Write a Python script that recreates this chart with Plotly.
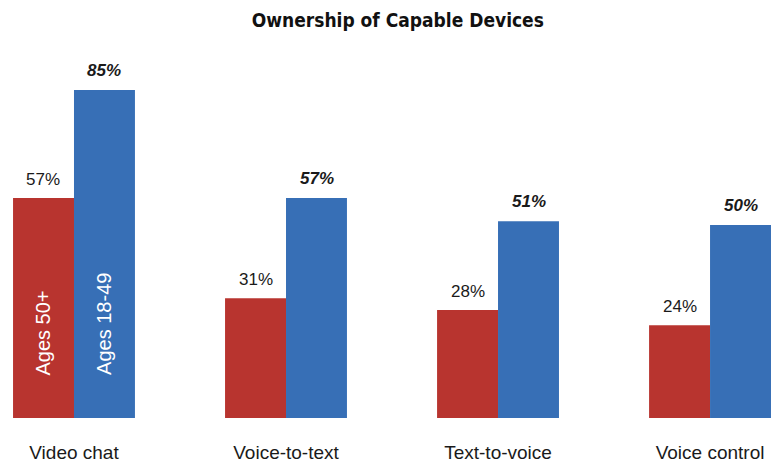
import plotly.graph_objects as go

categories = ["Video chat", "Voice-to-text", "Text-to-voice", "Voice control"]
older_name = "Ages 50+"
younger_name = "Ages 18-49"
older_values = [57, 31, 28, 24]
younger_values = [85, 57, 51, 50]

RED = "#b8342f"
BLUE = "#376fb6"
FONT = "Liberation Sans, Arial, sans-serif"

fig = go.Figure()
fig.add_trace(go.Bar(x=categories, y=older_values, name=older_name,
                     marker=dict(color=RED, line=dict(width=0))))
fig.add_trace(go.Bar(x=categories, y=younger_values, name=younger_name,
                     marker=dict(color=BLUE, line=dict(width=0))))

half = 30.5
annotations = []
for cat, ov, yv in zip(categories, older_values, younger_values):
    annotations.append(dict(x=cat, y=ov, xref="x", yref="y", xshift=-half, yshift=7,
                            yanchor="bottom", showarrow=False, text=f"{ov}%",
                            font=dict(family=FONT, size=17, color="#1a1a1a")))
    annotations.append(dict(x=cat, y=yv, xref="x", yref="y", xshift=half, yshift=8,
                            yanchor="bottom", showarrow=False, text=f"<b><i>{yv}%</i></b>",
                            font=dict(family=FONT, size=17, color="#1a1a1a")))

# series names written vertically inside the first pair of bars
annotations.append(dict(x=categories[0], y=22, xref="x", yref="y", xshift=-half,
                        showarrow=False, textangle=-90, text=older_name,
                        font=dict(family=FONT, size=20, color="white")))
annotations.append(dict(x=categories[0], y=24.5, xref="x", yref="y", xshift=half,
                        showarrow=False, textangle=-90, text=younger_name,
                        font=dict(family=FONT, size=20, color="white")))

fig.update_layout(
    width=780, height=464,
    margin=dict(l=0, r=0, t=32, b=46),
    paper_bgcolor="white", plot_bgcolor="white",
    barmode="group", bargap=0.425, bargroupgap=0,
    showlegend=False,
    title=dict(text="<b>Ownership of Capable Devices</b>", x=0.51, xanchor="center",
               y=0.957, yanchor="middle",
               font=dict(family="Liberation Sans Narrow, DejaVu Sans Condensed, Arial Narrow, sans-serif",
                         size=19, color="#111111")),
    xaxis=dict(range=[-0.349, 3.330], showgrid=False, zeroline=False, showline=False,
               ticks="", ticklabelstandoff=21,
               tickfont=dict(family=FONT, size=19, color="#1a1a1a")),
    yaxis=dict(range=[0, 100], visible=False),
    annotations=annotations,
)

fig.write_html("out.html")
